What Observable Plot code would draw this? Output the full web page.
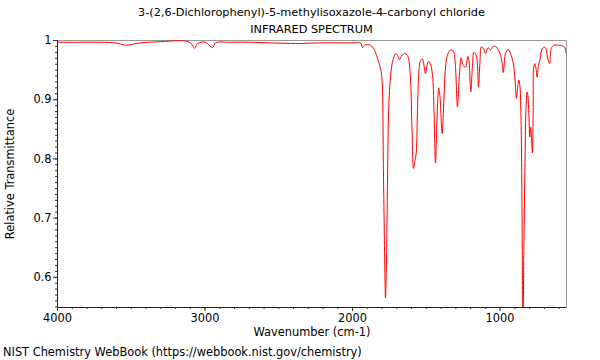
<!DOCTYPE html>
<html><head><meta charset="utf-8">
<script src="https://cdn.jsdelivr.net/npm/d3@7"></script>
<script src="https://cdn.jsdelivr.net/npm/@observablehq/plot@0.6"></script>
<style>
body{margin:0;background:#fff;font-family:"DejaVu Sans",sans-serif;}
#wrap{width:600px;height:360px;position:relative;overflow:hidden;background:#fff;}
.title{position:absolute;left:57px;width:509px;text-align:center;font-size:11.3px;line-height:14px;color:#000;white-space:nowrap;}
#caption{position:absolute;left:3px;top:344px;font-size:11.4px;line-height:16px;color:#000;white-space:nowrap;}
#chart{position:absolute;left:0;top:39px;}
</style></head><body><div id="wrap">
<div class="title" style="top:6px">3-(2,6-Dichlorophenyl)-5-methylisoxazole-4-carbonyl chloride</div>
<div class="title" style="top:23px">INFRARED SPECTRUM</div>
<div id="chart"></div>
<div id="caption">NIST Chemistry WebBook (https://webbook.nist.gov/chemistry)</div>
</div>
<script>
const wavenumbers = [4000,3844,3709,3607,3573,3539,3505,3437,3302,3200,
3132,3099,3071,3051,2997,2949,2929,2827,2692,2556,
2421,2353,2217,2082,1980,1946,1933,1919,1899,1879,
1858,1831,1811,1801,1791,1780,1777,1770,1763,1753,
1736,1723,1709,1695,1682,1665,1648,1631,1621,1607,
1597,1587,1580,1569,1560,1550,1540,1528,1516,1506,
1496,1484,1472,1458,1448,1438,1428,1416,1408,1393,
1384,1370,1357,1341,1326,1314,1303,1289,1276,1264,
1250,1235,1219,1211,1199,1187,1178,1162,1153,1147,
1136,1128,1113,1099,1081,1065,1047,1031,1016,997,
987,979,970,964,945,925,907,896,889,882,
873,866,862,857,852,845,839,832,825,817,
812,805,799,793,788,781,776,772,765,757,
749,740,731,715,697,686,679,665,659,654,
636,602,568,560,550];
const transmittance = [0.997,0.997,0.997,0.996,0.994,0.992,0.993,0.996,0.998,0.9995,
0.999,0.996,0.987,0.995,0.997,0.988,0.996,0.997,0.997,0.996,
0.995,0.995,0.996,0.996,0.996,0.996,0.988,0.992,0.993,0.992,
0.987,0.970,0.953,0.936,0.78,0.595,0.565,0.629,0.764,0.899,
0.954,0.970,0.978,0.975,0.968,0.975,0.978,0.976,0.970,0.933,
0.848,0.784,0.794,0.809,0.882,0.949,0.966,0.969,0.958,0.944,
0.958,0.965,0.960,0.941,0.882,0.793,0.865,0.920,0.907,0.843,
0.882,0.955,0.975,0.983,0.984,0.980,0.958,0.888,0.941,0.971,
0.958,0.955,0.973,0.966,0.913,0.958,0.980,0.975,0.958,0.921,
0.966,0.989,0.987,0.978,0.988,0.984,0.990,0.990,0.986,0.975,
0.963,0.946,0.966,0.978,0.985,0.975,0.955,0.924,0.902,0.919,
0.933,0.924,0.904,0.848,0.730,0.52,0.646,0.78,0.882,0.913,
0.907,0.874,0.837,0.854,0.84,0.81,0.882,0.955,0.961,0.953,
0.938,0.958,0.966,0.986,0.989,0.983,0.972,0.961,0.973,0.986,
0.992,0.992,0.990,0.987,0.975];
const xTicks = [4000, 3000, 2000, 1000];
const xTickLabels = ["4000", "3000", "2000", "1000"];
const yTicks = [0.6, 0.7, 0.8, 0.9, 1.0];
const yTickLabels = ["0.6", "0.7", "0.8", "0.9", "1"];
const xDomain = [4000, 550];
const yDomain = [0.549, 1.0];
const xMinor = d3.range(4000, 549, -100);
const yMinor = d3.range(55, 101, 1).map(v => v / 100);
const xLabel = "Wavenumber (cm-1)";
const yLabel = "Relative Transmittance";

const spectrum = wavenumbers.map((w, i) => ({wn: w, t: transmittance[i]}));

const chart = Plot.plot({
  width: 600, height: 305,
  marginTop: 1, marginBottom: 37, marginLeft: 57, marginRight: 34,
  x: {domain: xDomain, label: null},
  y: {domain: yDomain, label: null},
  style: {fontFamily: "DejaVu Sans", fontSize: "11.4px", background: "white", color: "black", overflow: "visible"},
  marks: [
    Plot.frame({stroke: "#999"}),
    Plot.line(spectrum, {x: "wn", y: "t", stroke: "#ff0000", strokeWidth: 1, curve: "catmull-rom", clip: true}),
    Plot.ruleX([xDomain[0]], {stroke: "#222"}),
    Plot.ruleY([yDomain[0]], {stroke: "#222"}),
    Plot.axisX(xMinor, {tickSize: 2, tickFormat: () => "", label: null, stroke: "#333"}),
    Plot.axisX(xTicks, {tickSize: 4, tickPadding: 2, tickFormat: d => xTickLabels[xTicks.indexOf(d)], label: null, stroke: "#333"}),
    Plot.axisY(yMinor, {tickSize: 2, tickFormat: () => "", label: null, stroke: "#333"}),
    Plot.axisY(yTicks, {tickSize: 4, tickPadding: 2, tickFormat: d => yTickLabels[yTicks.indexOf(d)], label: null, stroke: "#333"}),
    Plot.text([xLabel], {text: d => d, frameAnchor: "bottom", lineAnchor: "middle", textAnchor: "middle", dy: 25, fontSize: 11.4}),
    Plot.text([yLabel], {text: d => d, frameAnchor: "left", lineAnchor: "middle", textAnchor: "middle", rotate: -90, dx: -47, fontSize: 11.4})
  ]
});
document.getElementById("chart").appendChild(chart);
</script>
</body></html>
